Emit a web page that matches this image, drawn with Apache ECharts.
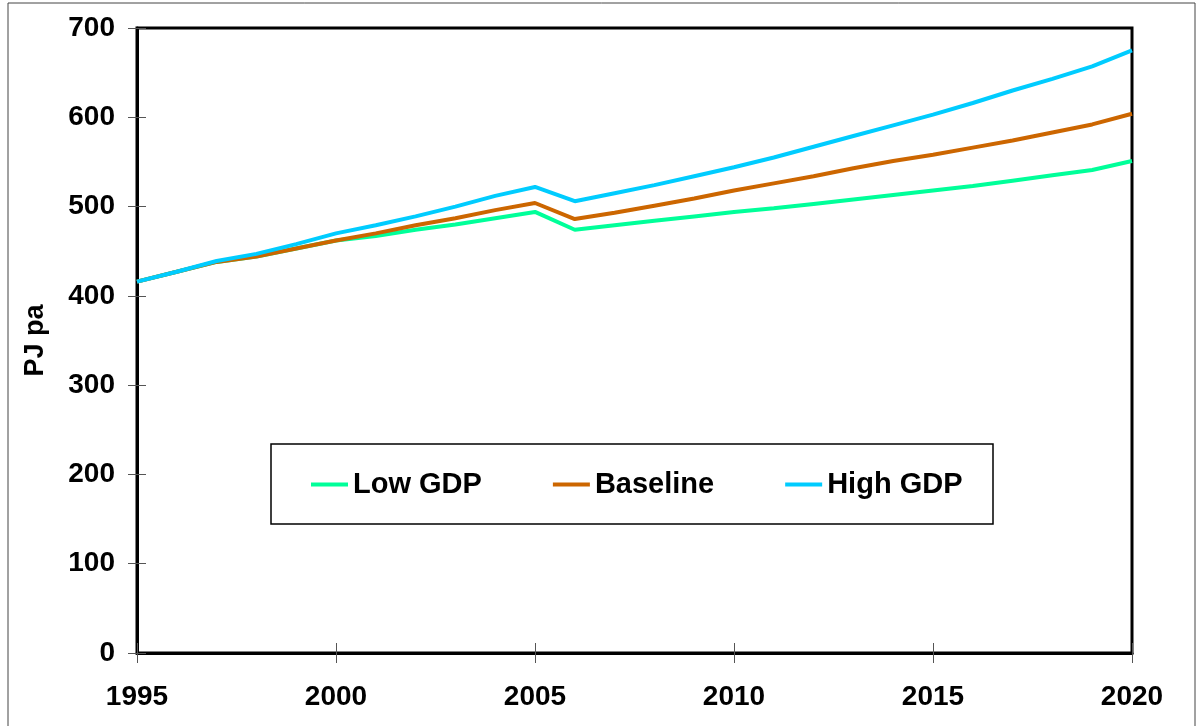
<!DOCTYPE html>
<html>
<head>
<meta charset="utf-8">
<script src="https://cdn.jsdelivr.net/npm/echarts@6/dist/echarts.min.js"></script>
<style>
  html, body { margin: 0; padding: 0; background: #fff; }
  #chart { width: 1197px; height: 726px; }
</style>
</head>
<body>
<div id="chart"></div>
<script>
// years on the x axis
const years = [1995, 1996, 1997, 1998, 1999, 2000, 2001, 2002, 2003, 2004, 2005, 2006, 2007,
  2008, 2009, 2010, 2011, 2012, 2013, 2014, 2015, 2016, 2017, 2018, 2019, 2020];
// PJ pa
const lowGdp = [416, 427, 438, 444, 453, 462, 467, 474, 480, 487, 494, 474, 479,
  484, 489, 494, 498, 503, 508, 513, 518, 523, 529, 535, 541, 551];
const baseline = [416, 427, 438, 444, 453, 462, 470, 479, 487, 496, 504, 486, 493,
  501, 509, 518, 526, 534, 543, 551, 558, 566, 574, 583, 592, 604];
const highGdp = [416, 427, 439, 447, 458, 470, 479, 489, 500, 512, 522, 506, 515,
  524, 534, 544, 555, 567, 579, 591, 603, 616, 630, 643, 657, 675];
const seriesNames = ["Low GDP", "Baseline", "High GDP"];
const seriesColors = ["#00FF99", "#CC6600", "#00CCFF"];

const font = "Liberation Sans, Arial, sans-serif";
const chart = echarts.init(document.getElementById("chart"));

function pairs(vals) {
  return years.map((y, i) => [y, vals[i]]);
}

function xAxisDef(inside, main) {
  return {
    type: "value",
    position: "bottom",
    min: 1995,
    max: 2020,
    interval: 5,
    splitLine: { show: false },
    axisLine: { show: main, onZero: false, lineStyle: { color: "#000", width: 3 } },
    axisTick: { show: true, inside: inside, length: 10, lineStyle: { color: "#555", width: 1 } },
    axisLabel: {
      show: main,
      margin: 30,
      color: "#000",
      fontFamily: font,
      fontWeight: "bold",
      fontSize: 28,
      formatter: (v) => String(v),
    },
  };
}

function yAxisDef(inside, main) {
  return {
    type: "value",
    position: "left",
    min: 0,
    max: 700,
    interval: 100,
    name: main ? "PJ pa" : "",
    nameLocation: "middle",
    nameGap: 88,
    nameTextStyle: { color: "#000", fontFamily: font, fontWeight: "bold", fontSize: 27 },
    splitLine: { show: false },
    axisLine: { show: main, onZero: false, lineStyle: { color: "#000", width: 3 } },
    axisTick: { show: true, inside: inside, length: 9, lineStyle: { color: "#555", width: 1 } },
    axisLabel: {
      show: main,
      margin: 22,
      color: "#000",
      fontFamily: font,
      fontWeight: "bold",
      fontSize: 28,
    },
  };
}

const option = {
  backgroundColor: "#fff",
  animation: false,
  grid: {
    left: 137,
    right: 65,
    top: 28,
    bottom: 73,
    show: true,
    borderColor: "#000",
    borderWidth: 3,
    backgroundColor: "#fff",
  },
  graphic: [
    {
      type: "rect",
      shape: { x: 8, y: 3, width: 1187, height: 740 },
      style: { fill: "none", stroke: "#444", lineWidth: 1 },
      z: -1,
    },
    {
      type: "rect",
      shape: { x: 271, y: 444, width: 722, height: 80 },
      style: { fill: "#fff", stroke: "#000", lineWidth: 1.5 },
      z: 1,
    },
  ],
  legend: {
    left: 311,
    top: 470,
    padding: 0,
    icon: "rect",
    itemWidth: 37,
    itemHeight: 4,
    itemGap: 71,
    z: 5,
    textStyle: { color: "#000", fontFamily: font, fontWeight: "bold", fontSize: 29 },
    data: seriesNames,
  },
  xAxis: [xAxisDef(false, true), xAxisDef(true, false)],
  yAxis: [yAxisDef(false, true), yAxisDef(true, false)],
  series: [lowGdp, baseline, highGdp].map((vals, i) => ({
    name: seriesNames[i],
    type: "line",
    xAxisIndex: 0,
    yAxisIndex: 0,
    symbol: "none",
    color: seriesColors[i],
    lineStyle: { color: seriesColors[i], width: 4 },
    data: pairs(vals),
  })),
};

chart.setOption(option);
</script>
</body>
</html>
